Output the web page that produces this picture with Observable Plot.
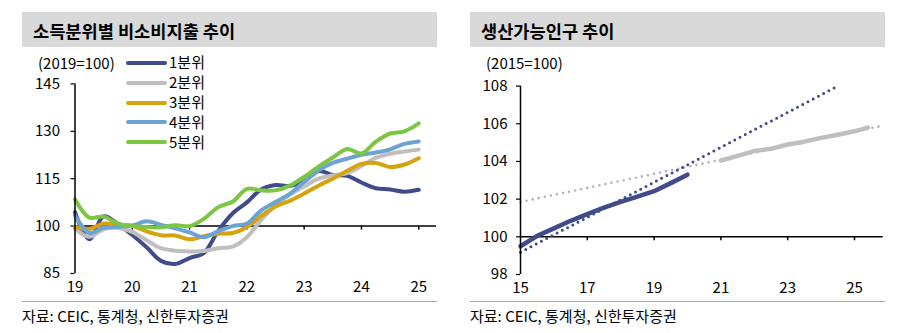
<!DOCTYPE html>
<html><head><meta charset="utf-8">
<script src="https://cdn.jsdelivr.net/npm/d3@7"></script>
<script src="https://cdn.jsdelivr.net/npm/@observablehq/plot@0.6"></script>
<style>
body{margin:0;width:903px;height:333px;background:#fff;position:relative;overflow:hidden;font-family:"Noto Sans CJK KR","Noto Sans",sans-serif;color:#000}
.bar{position:absolute;top:12px;height:35px;background:#D9D9D9}
.bar span{position:absolute;left:11px;top:0;line-height:38px;font-weight:bold;font-size:17.6px;white-space:nowrap}
.unit{position:absolute;top:53px;font-size:15px;line-height:20px;white-space:nowrap}
.sep{position:absolute;top:301px;height:1px;background:#A6A6A6}
.src{position:absolute;top:306px;font-size:15px;line-height:20px;white-space:nowrap}
.leg{position:absolute;left:126px;font-size:15px;line-height:20px;white-space:nowrap}
.leg i{display:inline-block;width:41px;height:4px;border-radius:2px;vertical-align:middle;margin-right:2px;position:relative;top:-1px}
.chart{position:absolute;top:50px}
</style></head>
<body>
<div class="bar" style="left:22px;width:415px"><span>소득분위별 비소비지출 추이</span></div>
<div class="bar" style="left:470px;width:415px"><span>생산가능인구 추이</span></div>
<div class="unit" style="left:38px">(2019=100)</div>
<div class="unit" style="left:486px">(2015=100)</div>
<div id="left" class="chart" style="left:0"></div>
<div id="right" class="chart" style="left:460px"></div>
<div id="legend"></div>
<div class="sep" style="left:22px;width:415px"></div>
<div class="sep" style="left:470px;width:415px"></div>
<div class="src" style="left:22px">자료: CEIC, 통계청, 신한투자증권</div>
<div class="src" style="left:470px">자료: CEIC, 통계청, 신한투자증권</div>
<script>
// ---- Left chart data (quarterly, 2019=100) ----
const quarters = [19,19.25,19.5,19.75,20,20.25,20.5,20.75,21,21.25,21.5,21.75,22,22.25,22.5,22.75,23,23.25,23.5,23.75,24,24.25,24.5,24.75,25];
const q1 = [104.4,95.8,103.1,100.6,97.2,93.3,89.0,88.0,89.9,91.5,98.5,104.0,107.5,111.6,113.0,112.7,114.2,117.4,116.2,115.9,113.8,112.0,111.6,110.9,111.5];
const q2 = [99.2,96.6,99.0,99.4,98.2,95.5,93.0,92.2,92.0,92.1,93.0,93.5,96.5,102.0,106.5,110.0,112.5,115.0,116.0,116.8,119.0,121.6,122.9,123.6,124.2];
const q3 = [99.7,99.1,100.8,100.4,100.1,98.3,97.1,97.0,95.8,96.8,97.6,97.8,99.7,103.2,106.2,108.0,110.3,112.8,115.0,117.5,119.7,120.0,118.7,119.5,121.5];
const q4 = [103.4,97.8,99.5,99.8,100.2,101.5,100.4,99.3,98.0,96.5,98.4,100.0,100.8,105.0,107.6,110.2,114.0,117.6,120.0,121.3,122.6,123.3,124.3,126.0,126.8];
const q5 = [108.5,102.7,103.0,100.8,100.0,99.7,99.6,100.3,100.0,102.3,106.0,107.7,111.8,111.3,111.3,112.8,115.6,118.8,121.7,124.4,123.0,126.7,129.3,130.0,132.5];
const seriesNames = ["1분위","2분위","3분위","4분위","5분위"];
const seriesColors = ["#404C8A","#BFBFBF","#D6A20E","#6CA3D5","#7DC644"];
const leftYTicks = [85,100,115,130,145];
const leftXTicks = [19,20,21,22,23,24,25];

// ---- Right chart data (2015=100) ----
const popYearsA = [15,15.5,16,16.5,17,17.5,18,18.5,19,19.5,20];
const popA = [99.5,100.05,100.45,100.85,101.2,101.55,101.85,102.13,102.42,102.85,103.3];
const popYearsB = [21,21.5,22,22.5,23,23.5,24,24.5,25,25.4];
const popB = [104.05,104.3,104.55,104.67,104.9,105.05,105.25,105.42,105.6,105.8];
const trendYearsA = [15,24.5];
const trendA = [99.18,108.0];
const trendYearsB = [15,25.85];
const trendB = [101.85,105.9];
const rightYTicks = [98,100,102,104,106,108];
const rightXTicks = [15,17,19,21,23,25];

const FONT = '"Noto Sans CJK KR","Noto Sans",sans-serif';

const leftData = [];
[q1,q2,q3,q4,q5].forEach((vals, s) => quarters.forEach((x, i) => leftData.push({x, y: vals[i], name: seriesNames[s]})));

const left = Plot.plot({
  width: 450, height: 250,
  marginLeft: 74.5, marginRight: 14, marginTop: 33.4, marginBottom: 27,
  x: {domain: [19, 25.31], label: null},
  y: {domain: [85, 145], label: null},
  color: {domain: seriesNames, range: seriesColors},
  style: {fontFamily: FONT, fontSize: "15px", color: "#000", background: "transparent"},
  marks: [
    Plot.axisY(leftYTicks, {tickSize: 4, tickPadding: 11, fontSize: 15, label: null, stroke: "#000", strokeWidth: 1.2}),
    Plot.axisX(leftXTicks, {tickSize: 0, tickPadding: 8, fontSize: 15, label: null}),
    Plot.ruleY([100], {stroke: "#000", strokeWidth: 1.5}),
    Plot.ruleX(leftXTicks.slice(1), {x: d => d, y1: () => 100, y2: () => 100, insetBottom: -4, stroke: "#000", strokeWidth: 1.5}),
    Plot.line(leftData, {x: "x", y: "y", z: "name", stroke: "name", strokeWidth: 4, curve: "catmull-rom", strokeLinecap: "round"}),
    Plot.ruleX([19], {stroke: "#000", strokeWidth: 1.5})
  ]
});
document.getElementById("left").appendChild(left);

const right = Plot.plot({
  width: 443, height: 250,
  marginLeft: 60, marginRight: 20.3, marginTop: 35.6, marginBottom: 26,
  x: {domain: [15, 25.86], label: null},
  y: {domain: [98, 108], label: null},
  style: {fontFamily: FONT, fontSize: "15px", color: "#000", background: "transparent"},
  marks: [
    Plot.axisY(rightYTicks, {tickSize: 4, tickPadding: 9, fontSize: 15, label: null, strokeWidth: 1.2}),
    Plot.axisX(rightXTicks, {tickSize: 0, tickPadding: 8, fontSize: 15, label: null}),
    Plot.ruleY([100], {stroke: "#000", strokeWidth: 1.5}),
    Plot.ruleX(rightXTicks.slice(1), {x: d => d, y1: () => 100, y2: () => 100, insetBottom: -4, stroke: "#000", strokeWidth: 1.5}),
    Plot.line(trendYearsB.map((x, i) => ({x, y: trendB[i]})), {x: "x", y: "y", stroke: "#B5B5B5", strokeWidth: 2.6, strokeDasharray: "0 6.2", strokeLinecap: "round"}),
    Plot.line(popYearsB.map((x, i) => ({x, y: popB[i]})), {x: "x", y: "y", stroke: "#BFBFBF", strokeWidth: 4.5}),
    Plot.line(popYearsA.map((x, i) => ({x, y: popA[i]})), {x: "x", y: "y", stroke: "#404C8A", strokeWidth: 4.5}),
    Plot.line(trendYearsA.map((x, i) => ({x, y: trendA[i]})), {x: "x", y: "y", stroke: "#404C8A", strokeWidth: 3, strokeDasharray: "0 5.9", strokeLinecap: "round"}),
    Plot.ruleX([15], {stroke: "#000", strokeWidth: 1.5})
  ]
});
document.getElementById("right").appendChild(right);

// legend
const legend = document.getElementById("legend");
const legTops = [52, 72, 92, 111.5, 131.5];
seriesNames.forEach((n, i) => {
  const d = document.createElement("div");
  d.className = "leg";
  d.style.top = legTops[i] + "px";
  d.innerHTML = `<i style="background:${seriesColors[i]}"></i>${n}`;
  legend.appendChild(d);
});
</script>
</body></html>
